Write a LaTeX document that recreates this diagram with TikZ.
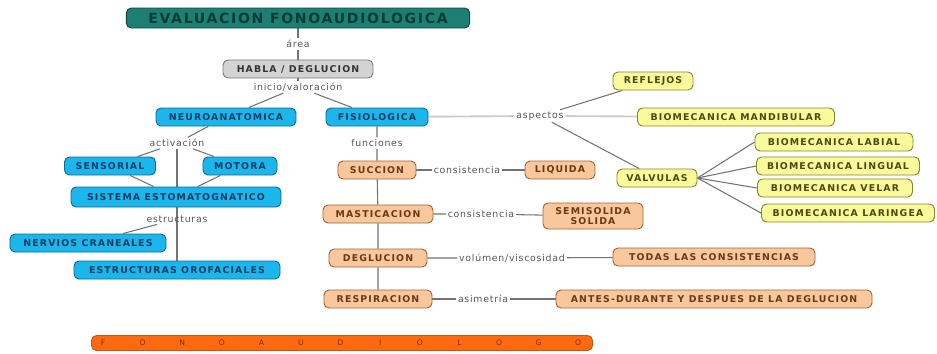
\documentclass[tikz,border=0pt]{standalone}
\usepackage{fontspec}
\setmainfont{DejaVu Sans}
\newfontfamily\boxfont[LetterSpace=12]{DejaVu Sans}
\newfontfamily\labfont[LetterSpace=8]{DejaVu Sans}
\usetikzlibrary{backgrounds}
\definecolor{tealf}{HTML}{1C7F72}
\definecolor{teald}{HTML}{0E4A42}
\definecolor{grayf}{HTML}{D3D3D3}
\definecolor{grayd}{HTML}{7C7C7C}
\definecolor{cyanf}{HTML}{1DB6EA}
\definecolor{cyand}{HTML}{0B6E96}
\definecolor{cyant}{HTML}{0A3D66}
\definecolor{peachf}{HTML}{F8C79C}
\definecolor{peachd}{HTML}{9E6638}
\definecolor{peacht}{HTML}{6A3A18}
\definecolor{yelf}{HTML}{FAFA9C}
\definecolor{yeld}{HTML}{86862C}
\definecolor{yelt}{HTML}{4A4A12}
\definecolor{barf}{HTML}{FF6A10}
\definecolor{bart}{HTML}{7A2E00}
\definecolor{linec}{HTML}{737373}
\definecolor{labc}{HTML}{555555}

\begin{document}
\begin{tikzpicture}[x=0.3mm,y=-0.3mm,
    box/.style={draw, rounded corners=1.5mm, line width=0.8pt, minimum height=5.4mm,
        inner xsep=1mm, inner ysep=0.5mm, align=center,
        font=\boxfont\bfseries\fontsize{8}{9}\selectfont},
    tealbox/.style={box, fill=tealf, draw=teald, text=teald!80!black},
    graybox/.style={box, fill=grayf, draw=grayd, text=black!80},
    cyanbox/.style={box, fill=cyanf, draw=cyand, text=cyant},
    peachbox/.style={box, fill=peachf, draw=peachd, text=peacht},
    yelbox/.style={box, fill=yelf, draw=yeld, text=yelt},
    lab/.style={font=\labfont\fontsize{8}{9}\selectfont, text=labc, inner sep=1.5pt},
    conn/.style={draw=linec, line width=0.9pt},
    wide/.style={draw=black!20, line width=1.6pt}]
\useasboundingbox (0,0) rectangle (937,353);

% top of the map
\node[tealbox, minimum width=103mm, minimum height=6mm, font=\boxfont\bfseries\fontsize{12}{13}\selectfont] (eval) at (298,18) {EVALUACION FONOAUDIOLOGICA};
\node[lab] (area) at (298,44) {área};
\node[graybox, minimum width=45mm] (habla) at (298,69) {HABLA / DEGLUCION};
\node[lab] (inicio) at (298,87) {inicio/valoración};
\node[cyanbox, minimum width=42mm] (neuro) at (226,117) {NEUROANATOMICA};
\node[cyanbox, minimum width=30.6mm] (fisio) at (377,117) {FISIOLOGICA};

% neuroanatomica
\node[lab] (activ) at (177,143) {activación};
\node[cyanbox, minimum width=27.3mm] (sens) at (110,166) {SENSORIAL};
\node[cyanbox, minimum width=22.2mm] (mot) at (240,166) {MOTORA};
\node[cyanbox, minimum width=63mm, minimum height=6mm] (sist) at (176,197) {SISTEMA ESTOMATOGNATICO};
\node[lab] (estr) at (177,219) {estructuras};
\node[cyanbox, minimum width=46.8mm] (nerv) at (88,243) {NERVIOS CRANEALES};
\node[cyanbox, minimum width=61.8mm] (orof) at (177,270) {ESTRUCTURAS OROFACIALES};

% fisiologica: funciones
\node[lab] (func) at (377,143) {funciones};
\node[peachbox, minimum width=23.4mm] (succ) at (377,170) {SUCCION};
\node[peachbox, minimum width=33mm] (mast) at (378,214) {MASTICACION};
\node[peachbox, minimum width=29.4mm] (degl) at (378,258) {DEGLUCION};
\node[peachbox, minimum width=32.4mm] (resp) at (378,299) {RESPIRACION};
\node[lab] (cons1) at (467,170) {consistencia};
\node[peachbox, minimum width=21mm] (liq) at (560,170) {LIQUIDA};
\node[lab] (cons2) at (481,214) {consistencia};
\node[peachbox, minimum width=30mm, minimum height=7.8mm, font=\boxfont\bfseries\fontsize{8}{8.5}\selectfont] (semi) at (593,216) {SEMISOLIDA\\SOLIDA};
\node[lab] (volu) at (512,258) {volúmen/viscosidad};
\node[peachbox, minimum width=60.6mm] (todas) at (714,257) {TODAS LAS CONSISTENCIAS};
\node[lab] (asim) at (483,299) {asimetría};
\node[peachbox, minimum width=94.8mm] (antes) at (714,299) {ANTES-DURANTE Y DESPUES DE LA DEGLUCION};

% fisiologica: aspectos
\node[lab] (asp) at (540,116) {aspectos};
\node[yelbox, minimum width=24mm] (refl) at (653,81) {REFLEJOS};
\node[yelbox, minimum width=59.1mm] (mand) at (736,117) {BIOMECANICA MANDIBULAR};
\node[yelbox, minimum width=24mm] (valv) at (657,178) {VALVULAS};
\node[yelbox, minimum width=47.4mm] (labial) at (834,142) {BIOMECANICA LABIAL};
\node[yelbox, minimum width=48.9mm] (lingual) at (838,166) {BIOMECANICA LINGUAL};
\node[yelbox, minimum width=46.5mm] (velar) at (835,188) {BIOMECANICA VELAR};
\node[yelbox, minimum width=51.9mm] (laring) at (848,213) {BIOMECANICA LARINGEA};

% bottom bar
\node[box, fill=barf, draw=barf!80!black, minimum width=150.3mm, minimum height=4.5mm] (bar) at (342,343) {};
\foreach \l [count=\i] in {F,O,N,O,A,U,D,I,O,L,O,G,O}
    \node[text=bart, font=\fontsize{6.5}{7}\selectfont, inner sep=0pt] (b\i) at ({103+(\i-1)*39.6},343) {\l};

\begin{pgfonlayer}{background}
    \draw[conn] (eval) -- (area) -- (habla);
    \draw[conn] (habla) -- (inicio);
    \draw[conn] (inicio) -- (neuro);
    \draw[conn] (inicio) -- (fisio);
    \draw[conn] (neuro) -- (activ);
    \draw[conn] (activ) -- (sens);
    \draw[conn] (activ) -- (mot);
    \draw[conn] (activ) -- (orof);
    \draw[conn] (sens) -- (sist);
    \draw[conn] (mot) -- (sist);
    \draw[conn] (sist) -- (estr);
    \draw[conn] (estr) -- (nerv);
    \draw[conn] (fisio) -- (func) -- (succ) -- (mast) -- (degl) -- (resp);
    \draw[conn] (succ) -- (cons1) -- (liq);
    \draw[conn] (mast) -- (cons2) -- (semi);
    \draw[conn] (degl) -- (volu) -- (todas);
    \draw[conn] (resp) -- (asim) -- (antes);
    \draw[wide] (fisio) -- (asp) -- (mand);
    \draw[conn] (asp) -- (refl);
    \draw[conn] (asp) -- (valv);
    \draw[conn] (valv.east) -- (labial.west);
    \draw[conn] (valv.east) -- (lingual.west);
    \draw[conn] (valv.east) -- (velar.west);
    \draw[conn] (valv.east) -- (laring.west);
\end{pgfonlayer}
\end{tikzpicture}
\end{document}
